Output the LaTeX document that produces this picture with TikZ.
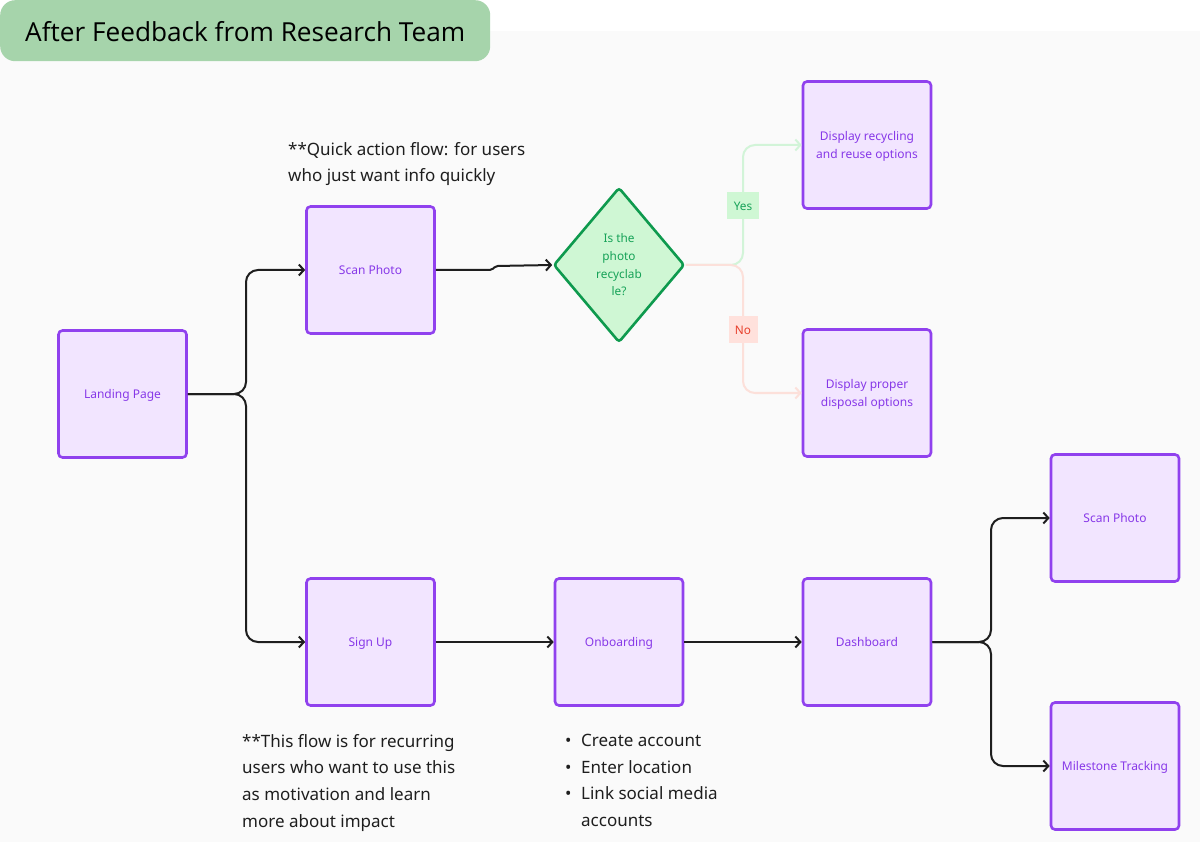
\documentclass[tikz,border=0pt]{standalone}
\usepackage{fontspec}
\setmainfont{Noto Sans}
\newfontfamily\titlefont{Open Sans}
\usetikzlibrary{arrows.meta,shapes.geometric}
\definecolor{pillGreen}{HTML}{A6D4AB}
\definecolor{bgGray}{HTML}{FAFAFA}
\definecolor{boxFill}{HTML}{F2E5FF}
\definecolor{boxStroke}{HTML}{9041EE}
\definecolor{boxText}{HTML}{8738E8}
\definecolor{dFill}{HTML}{CFF7D4}
\definecolor{dStroke}{HTML}{0E9A4E}
\definecolor{dText}{HTML}{17A258}
\definecolor{yesLine}{HTML}{D2F4D8}
\definecolor{noLine}{HTML}{FCE0DA}
\definecolor{noFill}{HTML}{FFE1DC}
\definecolor{noText}{HTML}{E8402C}
\definecolor{lineDark}{HTML}{1E1E1E}
\begin{document}
\begin{tikzpicture}[x=1pt,y=-1pt,
  box/.style={draw=boxStroke, fill=boxFill, line width=2.6pt, rounded corners=4pt,
    minimum width=128pt, minimum height=127pt, inner sep=0pt, text=boxText, text depth=0pt,
    font=\fontsize{12}{18}\selectfont, align=center},
  decision/.style={diamond, draw=dStroke, fill=dFill, line width=2.6pt, rounded corners=3pt,
    minimum width=131pt, minimum height=155pt, inner sep=0pt, text=dText,
    font=\fontsize{11.8}{17.7}\selectfont, align=center},
  conn/.style={draw=lineDark, line width=2pt, rounded corners=12pt,
    -{Straight Barb[length=5pt,width=11pt,line width=2pt]}},
  yesconn/.style={conn, draw=yesLine},
  noconn/.style={conn, draw=noLine},
  lbl/.style={inner sep=0pt, minimum width=32pt, minimum height=27pt, font=\fontsize{11.8}{14}\selectfont},
  note/.style={text=lineDark, inner sep=0pt, align=left, font=\fontsize{17}{26.6}\selectfont}
]
\useasboundingbox (0,0) rectangle (1200,842);
\fill[white] (0,0) rectangle (1200,842);
\fill[bgGray] (0,31) rectangle (1200,842);
\node[fill=pillGreen, rounded corners=15pt, minimum width=490pt, minimum height=61pt, anchor=north west, inner sep=0pt] (pill) at (0,0) {};
\node[anchor=west, inner sep=0pt, font=\titlefont\fontsize{26.2}{30}\selectfont, text=black] (title) at (25,32) {After Feedback from Research Team};

\node[box] (lp) at (122.5,394) {Landing Page};
\node[box] (sp) at (370.5,270) {Scan Photo};
\node[box] (su) at (370.5,642) {Sign Up};
\node[box] (ob) at (619,642) {Onboarding};
\node[box] (db) at (867,642) {Dashboard};
\node[box] (dr) at (867,145) {Display recycling\\and reuse options};
\node[box] (dp) at (867,393) {Display proper\\disposal options};
\node[box] (sp2) at (1115,518) {Scan Photo};
\node[box] (mt) at (1115,766) {Milestone Tracking};
\node[decision] (d) at (619,265) {Is the\\photo\\recyclab\\le?};

\coordinate (j1) at (246,394);
\coordinate (j2) at (743,265);
\coordinate (j3) at (991,642);

\draw[conn] (lp.east) -- (j1) |- (sp.west);
\draw[conn] (lp.east) -- (j1) |- (su.west);
\draw[conn, rounded corners=2pt] (sp.east) -- ++(56,0) -- ++(4,-4) -- (d.west);
\draw[yesconn] (d.east) -- (j2) |- (dr.west);
\draw[noconn] (d.east) -- (j2) |- (dp.west);
\draw[conn] (su.east) -- (ob.west);
\draw[conn] (ob.east) -- (db.west);
\draw[conn] (db.east) -- (j3) |- (sp2.west);
\draw[conn] (db.east) -- (j3) |- (mt.west);

\node[lbl, fill=dFill, text=dText] (yes) at (743,206) {Yes};
\node[lbl, fill=noFill, text=noText, minimum width=29pt] (no) at (743,330) {No};

\node[note, anchor=north west] (n1) at (288,142) {**Quick action flow: for users\\who just want info quickly};
\node[note, anchor=north west] (n2) at (242,734) {**This flow is for recurring\\users who want to use this\\as motivation and learn\\more about impact};
\node[note, anchor=north west] (n3) at (565,734) {\makebox[16pt][l]{•}Create account\\\makebox[16pt][l]{•}Enter location\\\makebox[16pt][l]{•}Link social media\\\hspace*{16pt}accounts};
\end{tikzpicture}
\end{document}
